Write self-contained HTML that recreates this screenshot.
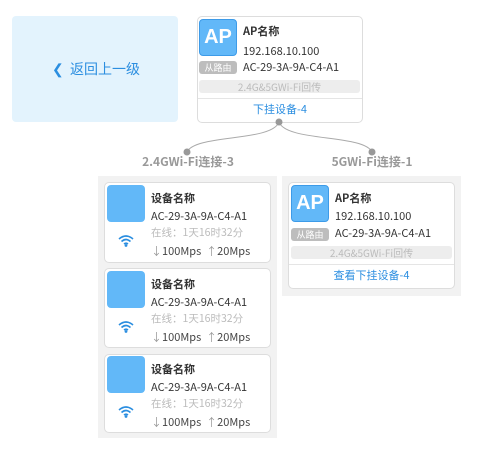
<!DOCTYPE html>
<html><head><meta charset="utf-8"><style>
*{margin:0;padding:0;box-sizing:border-box}
body{width:478px;height:449px;background:#fff;position:relative;overflow:hidden;font-family:"Noto Sans CJK SC","Liberation Sans",sans-serif;color:#333;line-height:1.15}
.a{position:absolute;white-space:nowrap}
.card{position:absolute;background:#fff;border:1px solid #ddd;border-radius:5px}
.icon{position:absolute;width:38px;height:37px;background:#62b8f8;border-radius:4px}
.ap{border:1px solid #3d9be8;color:#fff;font-size:20px;font-weight:bold;text-align:center;line-height:35px;font-family:"Liberation Sans",sans-serif}
.badge{position:absolute;width:38px;height:13px;background:#bdbdbd;border-radius:3px;color:#fff;font-size:9px;text-align:center;line-height:13px}
.bar{position:absolute;height:13px;background:#ededed;border-radius:3px;color:#bbb;font-size:10px;text-align:center;line-height:13px}
.t{font-size:11px;font-weight:bold}
.s{font-size:11px}
.g{font-size:10.5px;color:#bbb}
.lnk{font-size:11px;color:#2b8ee0;text-align:center}
</style></head><body>
<div class="a" style="left:12px;top:16px;width:166px;height:106px;background:#e3f3fd;border-radius:4px"></div>
<div class="a" style="left:52px;top:61px;font-size:14px;color:#2b8ee0">&#10094;&nbsp; 返回上一级</div>

<div class="card" style="left:197px;top:16px;width:166px;height:107px"></div>
<div class="icon ap" style="left:199px;top:19px">AP</div>
<div class="a t" style="left:243px;top:25px">AP名称</div>
<div class="a s" style="left:243px;top:45px">192.168.10.100</div>
<div class="badge" style="left:199px;top:61px">从路由</div>
<div class="a s" style="left:243px;top:61px">AC-29-3A-9A-C4-A1</div>
<div class="bar" style="left:199px;top:80px;width:161px">2.4G&amp;5GWi-Fi回传</div>
<div class="a" style="left:198px;top:98px;width:164px;height:1px;background:#e5e5e5"></div>
<div class="a lnk" style="left:198px;top:103px;width:164px">下挂设备-4</div>

<svg class="a" style="left:0;top:0" width="478" height="180">
<path d="M279 122 C272 142 195 134 187 152" fill="none" stroke="#aaa" stroke-width="1"/>
<path d="M279 122 C286 142 364 134 372 152" fill="none" stroke="#aaa" stroke-width="1"/>
<circle cx="279" cy="122" r="3.5" fill="#999"/>
<circle cx="187" cy="152" r="3.5" fill="#999"/>
<circle cx="372" cy="152" r="3.5" fill="#999"/>
</svg>
<div class="a" style="left:98px;top:155px;width:180px;text-align:center;font-size:12px;font-weight:bold;color:#999">2.4GWi-Fi连接-3</div>
<div class="a" style="left:282px;top:155px;width:180px;text-align:center;font-size:12px;font-weight:bold;color:#999">5GWi-Fi连接-1</div>

<div class="a" style="left:98px;top:176px;width:179px;height:262px;background:#f2f2f2"></div>
<div class="a" style="left:282px;top:176px;width:179px;height:120px;background:#f2f2f2"></div>

<div class="card" style="left:104px;top:182px;width:167px;height:81px"></div>
<div class="icon" style="left:107px;top:185px"></div>
<div class="a t" style="left:151px;top:192px">设备名称</div>
<div class="a s" style="left:151px;top:210px">AC-29-3A-9A-C4-A1</div>
<div class="a g" style="left:151px;top:227px">在线：1天16时32分</div>
<div class="a s" style="left:151px;top:245px;color:#444"><span style="color:#999">↓</span>100Mps &nbsp;<span style="color:#999">↑</span>20Mps</div>
<svg class="a" style="left:118px;top:234px" width="16" height="13"><path d="M1 5 Q8 -1 15 5 M3.5 7.5 Q8 3.5 12.5 7.5 M6 10 Q8 8.5 10 10" fill="none" stroke="#2b8ee0" stroke-width="1.6"/><circle cx="8" cy="11.5" r="1.4" fill="#2b8ee0"/></svg>

<div class="card" style="left:104px;top:268px;width:167px;height:80px"></div>
<div class="icon" style="left:107px;top:271px"></div>
<div class="a t" style="left:151px;top:278px">设备名称</div>
<div class="a s" style="left:151px;top:296px">AC-29-3A-9A-C4-A1</div>
<div class="a g" style="left:151px;top:313px">在线：1天16时32分</div>
<div class="a s" style="left:151px;top:331px;color:#444"><span style="color:#999">↓</span>100Mps &nbsp;<span style="color:#999">↑</span>20Mps</div>
<svg class="a" style="left:118px;top:320px" width="16" height="13"><path d="M1 5 Q8 -1 15 5 M3.5 7.5 Q8 3.5 12.5 7.5 M6 10 Q8 8.5 10 10" fill="none" stroke="#2b8ee0" stroke-width="1.6"/><circle cx="8" cy="11.5" r="1.4" fill="#2b8ee0"/></svg>

<div class="card" style="left:104px;top:354px;width:167px;height:79px"></div>
<div class="icon" style="left:107px;top:356px"></div>
<div class="a t" style="left:151px;top:363px">设备名称</div>
<div class="a s" style="left:151px;top:381px">AC-29-3A-9A-C4-A1</div>
<div class="a g" style="left:151px;top:398px">在线：1天16时32分</div>
<div class="a s" style="left:151px;top:416px;color:#444"><span style="color:#999">↓</span>100Mps &nbsp;<span style="color:#999">↑</span>20Mps</div>
<svg class="a" style="left:118px;top:405px" width="16" height="13"><path d="M1 5 Q8 -1 15 5 M3.5 7.5 Q8 3.5 12.5 7.5 M6 10 Q8 8.5 10 10" fill="none" stroke="#2b8ee0" stroke-width="1.6"/><circle cx="8" cy="11.5" r="1.4" fill="#2b8ee0"/></svg>

<div class="card" style="left:288px;top:182px;width:167px;height:107px"></div>
<div class="icon ap" style="left:291px;top:185px">AP</div>
<div class="a t" style="left:335px;top:192px">AP名称</div>
<div class="a s" style="left:335px;top:210px">192.168.10.100</div>
<div class="badge" style="left:291px;top:228px">从路由</div>
<div class="a s" style="left:335px;top:227px">AC-29-3A-9A-C4-A1</div>
<div class="bar" style="left:291px;top:246px;width:161px">2.4G&amp;5GWi-Fi回传</div>
<div class="a" style="left:289px;top:264px;width:165px;height:1px;background:#e5e5e5"></div>
<div class="a lnk" style="left:289px;top:269px;width:165px">查看下挂设备-4</div>
</body></html>
